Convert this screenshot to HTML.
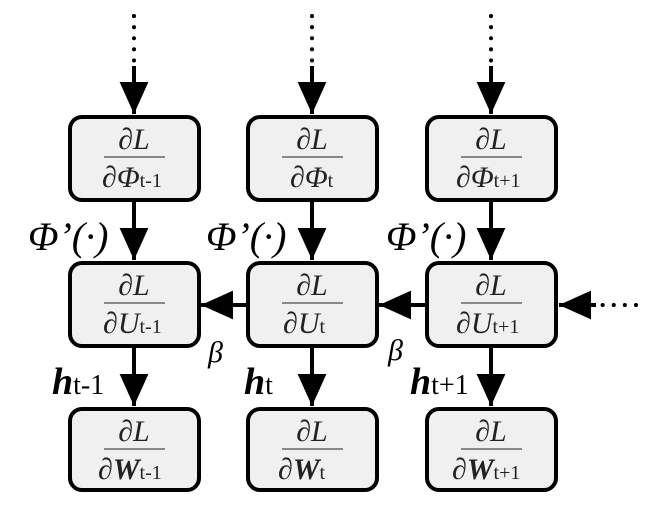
<!DOCTYPE html>
<html><head><style>body{margin:0;background:#fff}svg{display:block}svg text{font-family:"Liberation Serif","DejaVu Serif","Times New Roman",serif}</style></head><body>
<svg width="656" height="506" viewBox="0 0 656 506" xmlns="http://www.w3.org/2000/svg">
<defs>
<marker id="a" viewBox="0 0 10 10" refX="10" refY="5" markerWidth="8" markerHeight="8" orient="auto" markerUnits="strokeWidth">
<path d="M0,0.5 L10,5 L0,9.5 Z" fill="#000"/></marker>
</defs>
<g stroke="#000" stroke-width="4">
<g stroke-dasharray="0.1,11" stroke-width="4" stroke-linecap="round">
<line x1="134" y1="16" x2="134" y2="62"/><line x1="312" y1="16" x2="312" y2="62"/><line x1="491" y1="16" x2="491" y2="62"/>
<line x1="636" y1="305" x2="600" y2="305"/>
</g>
<line x1="134" y1="66" x2="134" y2="114" marker-end="url(#a)"/>
<line x1="312" y1="66" x2="312" y2="114" marker-end="url(#a)"/>
<line x1="491" y1="66" x2="491" y2="114" marker-end="url(#a)"/>
<line x1="134" y1="200" x2="134" y2="260" marker-end="url(#a)"/>
<line x1="312" y1="200" x2="312" y2="260" marker-end="url(#a)"/>
<line x1="491" y1="200" x2="491" y2="260" marker-end="url(#a)"/>
<line x1="134" y1="346" x2="134" y2="406" marker-end="url(#a)"/>
<line x1="312" y1="346" x2="312" y2="406" marker-end="url(#a)"/>
<line x1="491" y1="346" x2="491" y2="406" marker-end="url(#a)"/>
<line x1="247" y1="305" x2="201" y2="305" marker-end="url(#a)"/>
<line x1="426" y1="305" x2="379" y2="305" marker-end="url(#a)"/>
<line x1="596" y1="305" x2="559" y2="305" marker-end="url(#a)"/>
</g>
<g fill="#f0f0f0" stroke="#000" stroke-width="4">
<rect x="70" y="117" width="129" height="83" rx="12"/>
<rect x="248" y="117" width="129" height="83" rx="12"/>
<rect x="427" y="117" width="129" height="83" rx="12"/>
<rect x="70" y="263" width="129" height="83" rx="12"/>
<rect x="248" y="263" width="129" height="83" rx="12"/>
<rect x="427" y="263" width="129" height="83" rx="12"/>
<rect x="70" y="409" width="129" height="81" rx="12"/>
<rect x="248" y="409" width="129" height="81" rx="12"/>
<rect x="427" y="409" width="129" height="81" rx="12"/>
</g>
<g stroke="#666" stroke-width="1.5">
<line x1="104" y1="157" x2="165" y2="157"/><line x1="282" y1="157" x2="343" y2="157"/><line x1="461" y1="157" x2="522" y2="157"/>
<line x1="104" y1="303" x2="165" y2="303"/><line x1="282" y1="303" x2="343" y2="303"/><line x1="461" y1="303" x2="522" y2="303"/>
<line x1="104" y1="449" x2="165" y2="449"/><line x1="282" y1="449" x2="343" y2="449"/><line x1="461" y1="449" x2="522" y2="449"/>
</g>
<g font-size="30" font-style="italic" text-anchor="middle" fill="#222">
<text x="134" y="149">∂L</text><text x="312" y="149">∂L</text><text x="491" y="149">∂L</text>
<text x="134" y="295">∂L</text><text x="312" y="295">∂L</text><text x="491" y="295">∂L</text>
<text x="134" y="441">∂L</text><text x="312" y="441">∂L</text><text x="491" y="441">∂L</text>
</g>
<g font-size="30" font-style="italic" fill="#222">
<text x="102" y="187">∂Φ<tspan font-style="normal" font-size="20">t-1</tspan></text>
<text x="290" y="187">∂Φ<tspan font-style="normal" font-size="20">t</tspan></text>
<text x="456" y="187">∂Φ<tspan font-style="normal" font-size="20">t+1</tspan></text>
<text x="103" y="333">∂U<tspan font-style="normal" font-size="20">t-1</tspan></text>
<text x="283" y="333">∂U<tspan font-style="normal" font-size="20">t</tspan></text>
<text x="456" y="333">∂U<tspan font-style="normal" font-size="20">t+1</tspan></text>
<text x="98" y="479">∂<tspan font-weight="bold">W</tspan><tspan font-style="normal" font-size="20">t-1</tspan></text>
<text x="278" y="479">∂<tspan font-weight="bold">W</tspan><tspan font-style="normal" font-size="20">t</tspan></text>
<text x="452" y="479">∂<tspan font-weight="bold">W</tspan><tspan font-style="normal" font-size="20">t+1</tspan></text>
</g>
<g font-size="40" font-style="italic" fill="#000">
<text x="28" y="250">Φ’(·)</text>
<text x="206" y="250">Φ’(·)</text>
<text x="386" y="250">Φ’(·)</text>
</g>
<g font-size="30" font-style="italic" fill="#000">
<text x="208" y="362">β</text><text x="388" y="360">β</text>
</g>
<g font-size="38" fill="#000">
<text x="52" y="394"><tspan font-weight="bold" font-style="italic">h</tspan><tspan font-size="28">t-1</tspan></text>
<text x="244" y="394"><tspan font-weight="bold" font-style="italic">h</tspan><tspan font-size="28">t</tspan></text>
<text x="410" y="394"><tspan font-weight="bold" font-style="italic">h</tspan><tspan font-size="28">t+1</tspan></text>
</g>
</svg>
</body></html>
